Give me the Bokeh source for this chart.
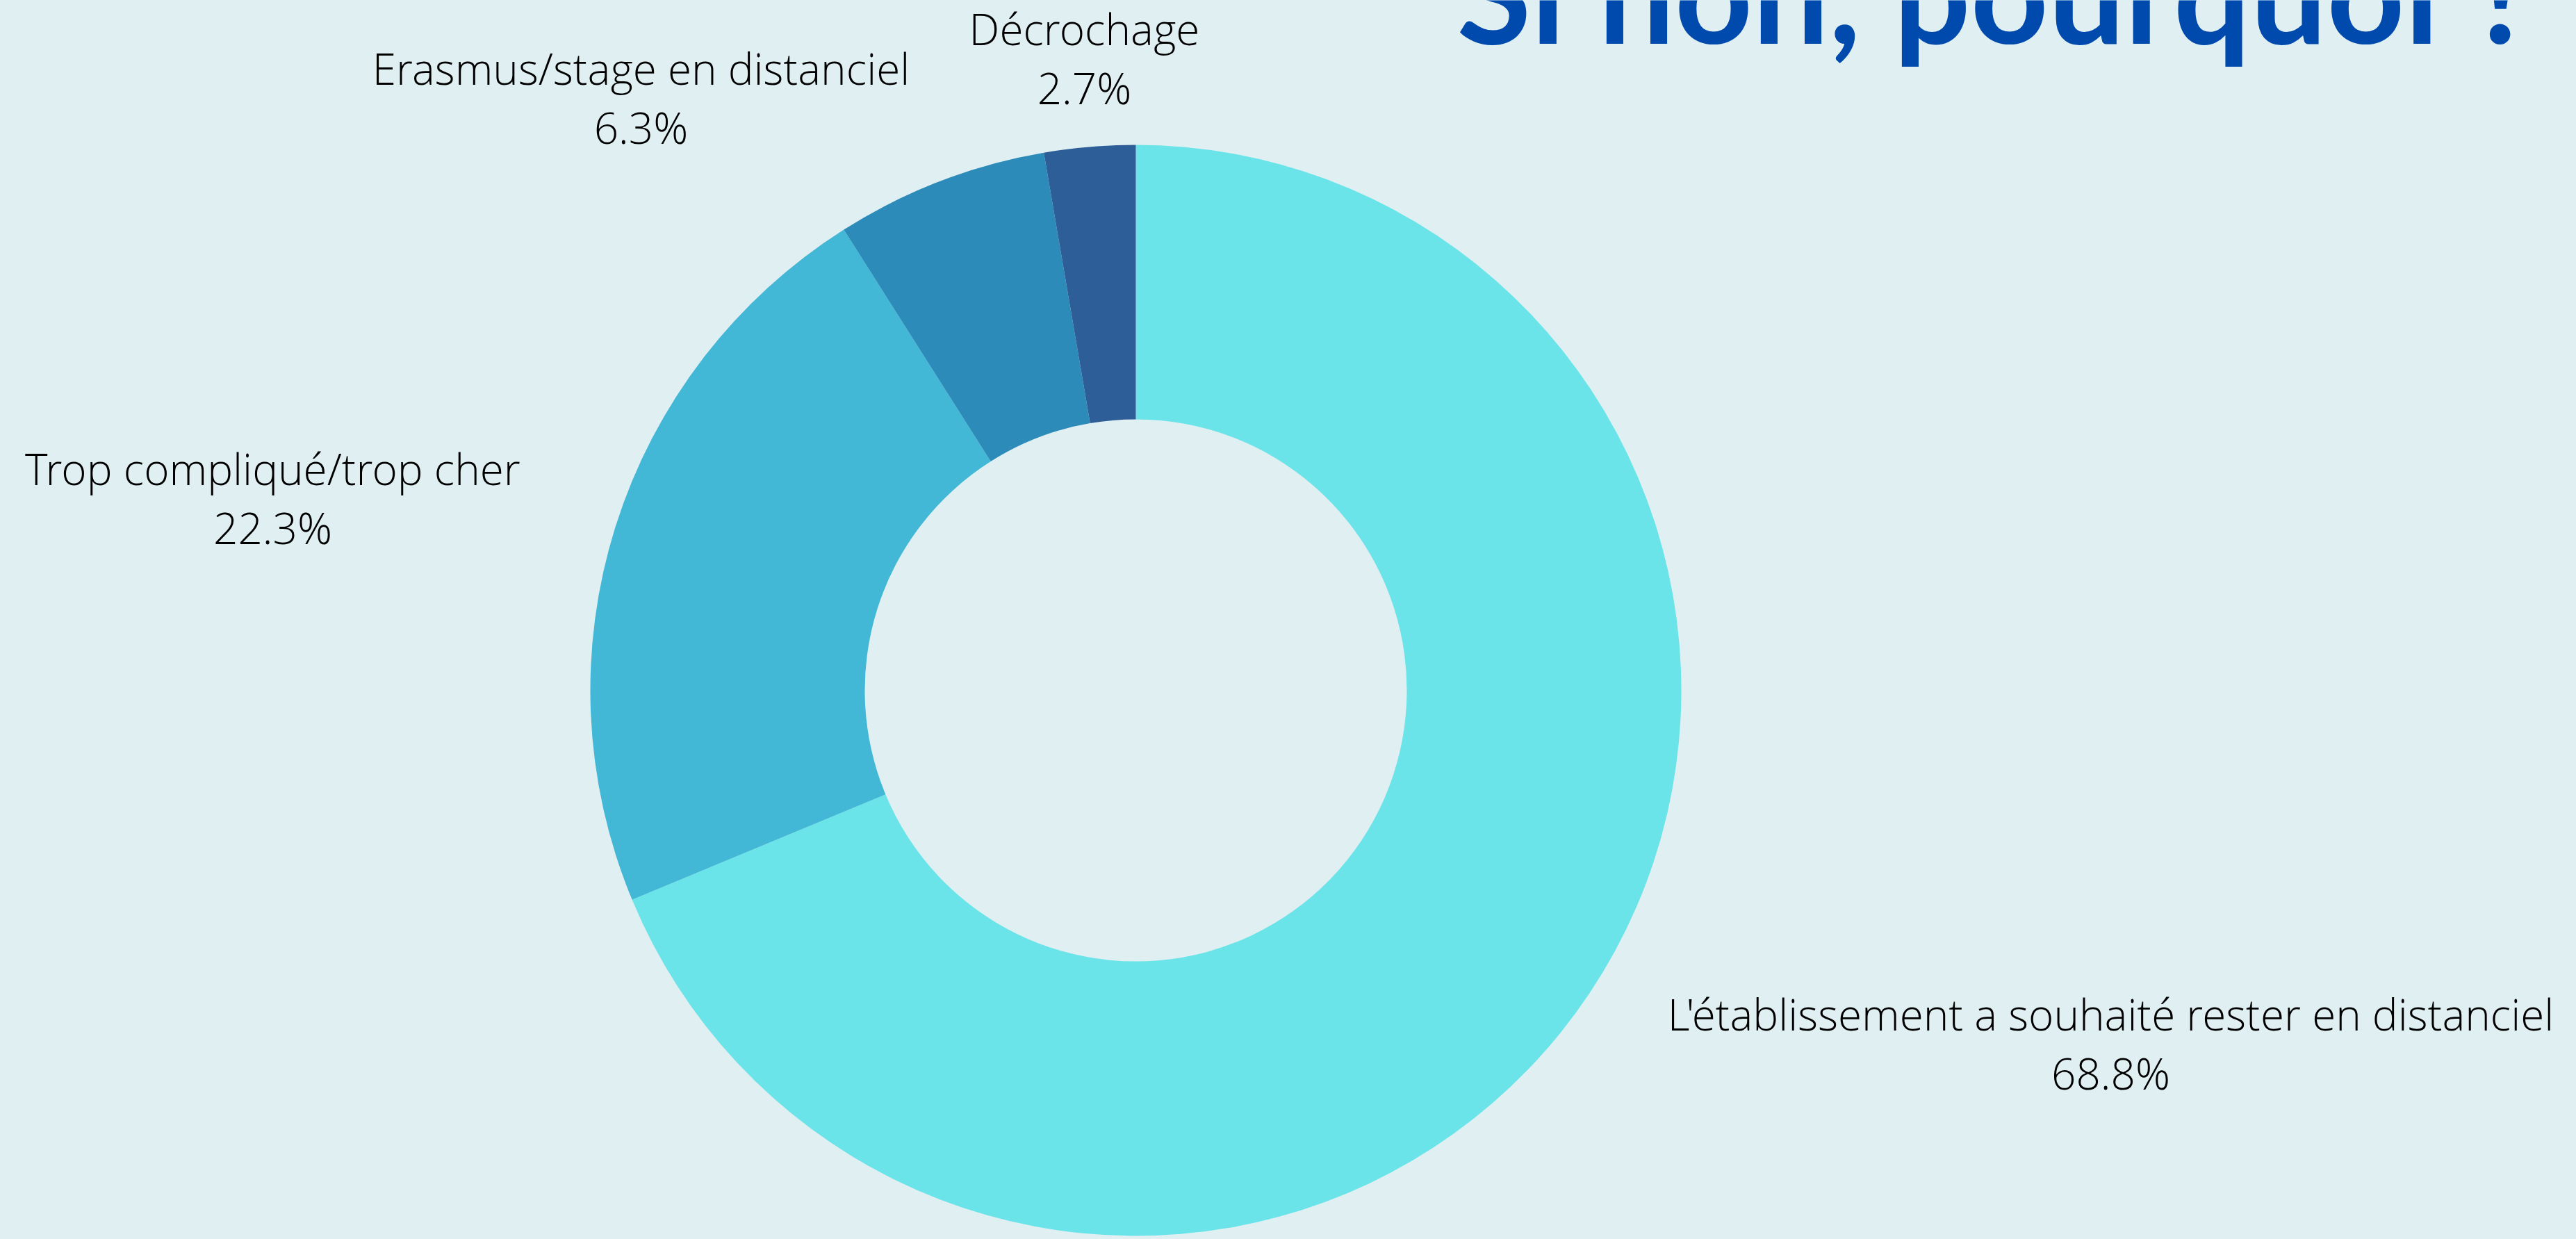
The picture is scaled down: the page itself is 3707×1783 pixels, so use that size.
import math
from bokeh.plotting import figure
from bokeh.models import ColumnDataSource, Range1d
from bokeh.core.properties import value
from bokeh.embed import file_html
from bokeh.resources import INLINE

# ---- data ----
categories = ["L'établissement a souhaité rester en distanciel",
              "Trop compliqué/trop cher",
              "Erasmus/stage en distanciel",
              "Décrochage"]
percent = [68.8, 22.3, 6.3, 2.7]
colors = ["#6AE4E8", "#42B7D6", "#2D8BBA", "#2E5E98"]
title_text = "Si non, pourquoi ?"

# ---- layout (page pixels) ----
W, H = 3707, 1783
BG = "#E0EFF2"
def dy(page_y):
    return H - page_y

cx, cy = 1634, dy(993)
r_out, r_in = 785, 390

total = sum(percent)
starts, ends = [], []
acc = 0.0
for v in percent:
    starts.append(math.pi / 2 - 2 * math.pi * acc / total)
    acc += v
    ends.append(math.pi / 2 - 2 * math.pi * acc / total)

p = figure(width=W, height=H, output_backend="svg", toolbar_location=None,
           x_range=Range1d(0, W), y_range=Range1d(0, H),
           min_border=0, background_fill_color=BG, border_fill_color=BG)
p.axis.visible = False
p.grid.visible = False
p.outline_line_color = None

src = ColumnDataSource(dict(x=[cx] * 4, y=[cy] * 4, start=starts, end=ends, color=colors))
p.annular_wedge(x="x", y="y", inner_radius=r_in, outer_radius=r_out,
                start_angle="start", end_angle="end", direction="clock",
                fill_color="color", line_color=None, source=src)

# label anchors (page px: center x, first-line baseline)
label_fs = 62
base_adj = 0.345
label_x = [3037, 392, 922, 1560]
label_y = [1480, 695, 119, 62]
line_gap = 85

lab = ColumnDataSource(dict(
    x=label_x * 2,
    y=[dy(y - base_adj * label_fs) for y in label_y] +
      [dy(y + line_gap - base_adj * label_fs) for y in label_y],
    t=categories + [f"{v:.1f}%" for v in percent],
))
p.text(x="x", y="y", text="t", source=lab, text_align="center",
       text_baseline="alphabetic", text_font=value("Open Sans Light"),
       text_font_size=f"{label_fs}px", text_color="#000000")

title_fs = 195
p.text(x=[2096], y=[dy(55 - base_adj * title_fs)], text=[title_text], text_align="left",
       text_baseline="alphabetic", text_font=value("Lato"), text_font_style="bold",
       text_font_size=f"{title_fs}px", text_color="#004AAD")

html = file_html(p, INLINE)
html = html.replace("<body>", '<body style="background-color:%s;">' % BG)
open("out.html", "w").write(html)
